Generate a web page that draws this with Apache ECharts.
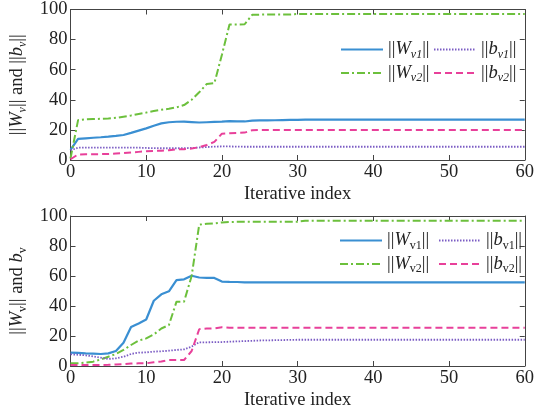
<!DOCTYPE html>
<html lang="en" style="height: 100%">
<head>
  <meta charset="utf-8">
</head>
<body style="height: 100%; margin: 0; background: #fff">
  <div id="container" style="width: 537px; height: 416px"></div>

  <script type="text/javascript" src="https://fastly.jsdelivr.net/npm/echarts@6.0.0/dist/echarts.min.js"></script>
  <script type="text/javascript">
    // values per iteration, index 0..60
    var top_Wv1 = [6.7, 14, 14.4, 14.8, 15.1, 15.5, 16, 16.6, 18, 19.5, 21, 22.8, 24.3, 25.1, 25.4, 25.5, 25.2, 24.9, 25.1, 25.3,
      25.5, 25.8, 25.6, 25.6, 26.2, 26.3, 26.3, 26.4, 26.5, 26.6, 26.7, 26.8, 26.8, 26.8, 26.8, 26.8, 26.8, 26.8, 26.8, 26.8,
      26.8, 26.8, 26.8, 26.8, 26.8, 26.8, 26.8, 26.8, 26.8, 26.8, 26.8, 26.8, 26.8, 26.8, 26.8, 26.8, 26.8, 26.8, 26.8, 26.8, 26.8];
    var top_Wv2 = [1, 26.5, 27, 27.2, 27.4, 27.6, 28, 28.8, 29.6, 30.6, 31.5, 32.5, 33.4, 34, 35, 36.5, 40, 45, 50.5, 51,
      70, 90, 90, 90.2, 96.5, 96.6, 96.7, 96.7, 96.7, 96.7, 97, 97, 97, 97, 97, 97, 97, 97, 97, 97,
      97, 97, 97, 97, 97, 97, 97, 97, 97, 97, 97, 97, 97, 97, 97, 97, 97, 97, 97, 97, 97];
    var top_bv1 = [6.5, 8.2, 8.2, 8.2, 8.2, 8.2, 8.2, 8.2, 8.2, 8.2, 8, 7.9, 7.8, 7.8, 7.8, 7.9, 8, 8.3, 8.6, 8.9,
      9, 9, 8.9, 8.8, 8.8, 8.8, 8.8, 8.8, 8.8, 8.8, 8.8, 8.8, 8.8, 8.8, 8.8, 8.8, 8.8, 8.8, 8.8, 8.8,
      8.8, 8.8, 8.8, 8.8, 8.8, 8.8, 8.8, 8.8, 8.8, 8.8, 8.8, 8.8, 8.8, 8.8, 8.8, 8.8, 8.8, 8.8, 8.8, 8.8, 8.8];
    var top_bv2 = [0.5, 3.7, 3.8, 3.8, 3.9, 4, 4.3, 4.6, 5, 5.4, 5.8, 6, 6.2, 6.5, 7, 7.2, 7.6, 8.5, 10, 12,
      17.5, 17.8, 18, 18.2, 19.8, 20, 20, 20, 20, 20, 20, 20, 20, 20, 20, 20, 20, 20, 20, 20,
      20, 20, 20, 20, 20, 20, 20, 20, 20, 20, 20, 20, 20, 20, 20, 20, 20, 20, 20, 20, 20];

    var bot_Wv1 = [8.9, 8.7, 8.4, 8.2, 8, 8.4, 10, 15.5, 26, 28.4, 31, 43.5, 47.8, 49.8, 57.3, 57.8, 60.2, 59, 58.8, 58.7,
      56.3, 56.1, 56, 55.8, 55.8, 55.8, 55.8, 55.8, 55.8, 55.8, 55.8, 55.8, 55.8, 55.8, 55.8, 55.8, 55.8, 55.8, 55.8, 55.8,
      55.8, 55.8, 55.8, 55.8, 55.8, 55.8, 55.8, 55.8, 55.8, 55.8, 55.8, 55.8, 55.8, 55.8, 55.8, 55.8, 55.8, 55.8, 55.8, 55.8, 55.8];
    var bot_Wv2 = [1.8, 1.8, 2.2, 2.9, 4.4, 6.2, 8, 10.7, 14, 16.9, 18.4, 21, 25, 27.3, 42.9, 42.9, 60, 94.2, 94.8, 95.1,
      95.7, 96, 96.1, 96.1, 96.1, 96.1, 96.1, 96.1, 96.1, 96.1, 96.2, 96.9, 96.9, 96.9, 96.9, 96.9, 96.9, 96.9, 96.9, 96.9,
      96.9, 96.9, 96.9, 96.9, 96.9, 96.9, 96.9, 96.9, 96.9, 96.9, 96.9, 96.9, 96.9, 96.9, 96.9, 96.9, 96.9, 96.9, 96.9, 96.9, 96.9];
    var bot_bv1 = [7.8, 7.5, 7.1, 6.4, 5.6, 4.7, 5.1, 6.2, 8, 8.9, 9.1, 9.6, 9.8, 10.2, 10.7, 11.1, 12.9, 15.8, 15.8, 15.9,
      16, 16.2, 16.4, 16.6, 16.8, 17, 17.1, 17.2, 17.3, 17.4, 17.5, 17.5, 17.5, 17.5, 17.5, 17.5, 17.5, 17.5, 17.5, 17.5,
      17.5, 17.5, 17.5, 17.5, 17.5, 17.5, 17.5, 17.5, 17.5, 17.5, 17.5, 17.5, 17.5, 17.5, 17.5, 17.5, 17.5, 17.5, 17.5, 17.5, 17.5];
    var bot_bv2 = [0.7, 0.7, 0.7, 0.7, 0.7, 0.8, 1, 1.3, 1.6, 1.8, 1.8, 2.5, 3, 4, 4, 4, 10, 24.5, 25, 25.1,
      25.8, 25.5, 25.5, 25.5, 25.5, 25.5, 25.5, 25.5, 25.5, 25.5, 25.5, 25.5, 25.5, 25.5, 25.5, 25.5, 25.5, 25.5, 25.5, 25.5,
      25.5, 25.5, 25.5, 25.5, 25.5, 25.5, 25.5, 25.5, 25.5, 25.5, 25.5, 25.5, 25.5, 25.5, 25.5, 25.5, 25.5, 25.5, 25.5, 25.5, 25.5];

    var FONT = '"Liberation Serif", "DejaVu Serif", serif';
    var FS = 18.5;
    var AXIS_COLOR = '#444';
    var TEXT_COLOR = '#222';

    var dom = document.getElementById('container');
    var myChart = echarts.init(dom, null, { renderer: 'canvas' });

    function pairs(arr) {
      return arr.map(function (v, i) { return [i, v]; });
    }

    var styles = {
      Wv1: { color: '#3a8fd2', width: 2.2, type: 'solid' },
      Wv2: { color: '#6cc03c', width: 2, type: [8, 3, 2, 3] },
      bv1: { color: '#7b5cc4', width: 1.8, type: [1.5, 1.5] },
      bv2: { color: '#e8409a', width: 2, type: [7, 4] }
    };

    function makeSeries(name, arr, ax) {
      var s = styles[name];
      return {
        name: name,
        type: 'line',
        xAxisIndex: ax,
        yAxisIndex: ax,
        data: pairs(arr),
        symbol: 'none',
        animation: false,
        lineStyle: { color: s.color, width: s.width, type: s.type },
        itemStyle: { color: s.color }
      };
    }

    var richBase = {
      n: { fontFamily: FONT, fontSize: FS, color: TEXT_COLOR },
      i: { fontFamily: FONT, fontSize: FS, fontStyle: 'italic', color: TEXT_COLOR },
      si: { fontFamily: FONT, fontSize: 12, fontStyle: 'italic', color: TEXT_COLOR, padding: [10, 0, 0, 0] },
      s: { fontFamily: FONT, fontSize: 12, color: TEXT_COLOR, padding: [10, 0, 0, 0] }
    };

    function legendLabel(italicSub) {
      var sub = italicSub ? 'si' : 's';
      return function (name) {
        var letter = name.charAt(0);
        var idx = name.substr(1);
        return '{n|||}{i|' + letter + '}{' + sub + '|' + idx + '}{n|||}';
      };
    }

    function legend(data, left, top, italicSub) {
      return {
        data: data,
        orient: 'vertical',
        left: left,
        top: top,
        itemWidth: 42,
        itemHeight: 10,
        itemGap: 3,
        padding: 0,
        selectedMode: false,
        itemStyle: { opacity: 0 },
        formatter: legendLabel(italicSub),
        textStyle: { rich: richBase }
      };
    }

    function xAxes(gridIndex) {
      return [{
        type: 'value', gridIndex: gridIndex, position: 'bottom',
        min: 0, max: 60, interval: 10,
        name: 'Iterative index', nameLocation: 'middle', nameGap: 25,
        nameTextStyle: { fontFamily: FONT, fontSize: FS, color: TEXT_COLOR },
        axisLine: { onZero: false, lineStyle: { color: AXIS_COLOR, width: 1 } },
        axisTick: { inside: true, length: 5, lineStyle: { color: AXIS_COLOR } },
        axisLabel: { fontFamily: FONT, fontSize: FS, color: TEXT_COLOR, margin: 3 },
        splitLine: { show: false }
      }, {
        type: 'value', gridIndex: gridIndex, position: 'top',
        min: 0, max: 60, interval: 10,
        axisLine: { onZero: false, lineStyle: { color: AXIS_COLOR, width: 1 } },
        axisTick: { inside: true, length: 5, lineStyle: { color: AXIS_COLOR } },
        axisLabel: { show: false },
        splitLine: { show: false }
      }];
    }

    function yAxes(gridIndex, nameText) {
      return [{
        type: 'value', gridIndex: gridIndex, position: 'left',
        min: 0, max: 100, interval: 20,
        name: nameText, nameLocation: 'middle', nameGap: 42,
        nameTextStyle: { fontFamily: FONT, fontSize: FS, color: TEXT_COLOR, rich: richBase },
        axisLine: { onZero: false, lineStyle: { color: AXIS_COLOR, width: 1 } },
        axisTick: { inside: true, length: 5, lineStyle: { color: AXIS_COLOR } },
        axisLabel: { fontFamily: FONT, fontSize: FS, color: TEXT_COLOR, margin: 3 },
        splitLine: { show: false }
      }, {
        type: 'value', gridIndex: gridIndex, position: 'right',
        min: 0, max: 100, interval: 20,
        axisLine: { onZero: false, lineStyle: { color: AXIS_COLOR, width: 1 } },
        axisTick: { inside: true, length: 5, lineStyle: { color: AXIS_COLOR } },
        axisLabel: { show: false },
        splitLine: { show: false }
      }];
    }

    var option = {
      backgroundColor: '#fff',
      animation: false,
      grid: [
        { left: 70, top: 9, width: 455, height: 151 },
        { left: 70, top: 216, width: 455, height: 150 }
      ],
      legend: [
        legend(['Wv1', 'Wv2'], 340, 40, true),
        legend(['bv1', 'bv2'], 433, 40, true),
        legend(['Wv1', 'Wv2'], 339, 231, false),
        legend(['bv1', 'bv2'], 438, 231, false)
      ],
      xAxis: xAxes(0).concat(xAxes(1)),
      yAxis: yAxes(0, '{n|||}{i|W}{si|v}{n||| and ||}{i|b}{si|v}{n|||}')
        .concat(yAxes(1, '{n|||}{i|W}{s|v}{n||| and }{i|b}{s|v}')),
      series: [
        makeSeries('Wv1', top_Wv1, 0),
        makeSeries('Wv2', top_Wv2, 0),
        makeSeries('bv1', top_bv1, 0),
        makeSeries('bv2', top_bv2, 0),
        makeSeries('Wv1', bot_Wv1, 2),
        makeSeries('Wv2', bot_Wv2, 2),
        makeSeries('bv1', bot_bv1, 2),
        makeSeries('bv2', bot_bv2, 2)
      ]
    };

    myChart.setOption(option);
    window.addEventListener('resize', myChart.resize);
  </script>
</body>
</html>
